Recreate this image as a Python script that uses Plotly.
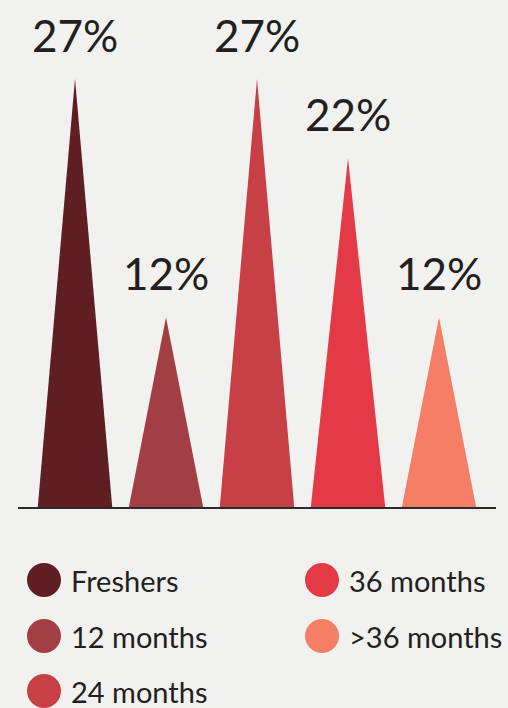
import plotly.graph_objects as go

categories = ["Freshers", "12 months", "24 months", "36 months", ">36 months"]
values = [27, 12, 27, 22, 12]
colors = ["#5f1e21", "#a23f44", "#c64045", "#e43a45", "#f47f66"]
labels = [f"{v}%" for v in values]

FONT = "Lato, 'Open Sans', sans-serif"
TXT = "#231f20"
half_w = 0.41

fig = go.Figure()
for i, (cat, v, c) in enumerate(zip(categories, values, colors)):
    fig.add_trace(go.Scatter(
        x=[i - half_w, i, i + half_w, i - half_w],
        y=[0, v, 0, 0],
        fill="toself", fillcolor=c, mode="lines",
        line=dict(color=c, width=0), showlegend=False, hoverinfo="skip",
        xaxis="x", yaxis="y"))
    fig.add_annotation(x=i, y=v, xref="x", yref="y", text=labels[i],
                       showarrow=False, yanchor="bottom", yshift=16,
                       font=dict(family=FONT, size=44, color=TXT))

# legend drawn as marker grid (two columns, filled column-wise)
leg_col = [0, 0, 0, 1, 1]
leg_row = [0, 1, 2, 0, 1]
col_x = [44, 322]
txt_x = [69, 347]
row_y = [580, 636, 691]
for i, cat in enumerate(categories):
    fig.add_trace(go.Scatter(
        x=[col_x[leg_col[i]]], y=[row_y[leg_row[i]]],
        mode="markers",
        marker=dict(size=34, color=colors[i], line=dict(width=0)),
        showlegend=False, hoverinfo="skip", xaxis="x2", yaxis="y2",
        cliponaxis=False))
    fig.add_annotation(x=txt_x[leg_col[i]], y=row_y[leg_row[i]], xref="x2", yref="y2",
                       text=cat, showarrow=False, xanchor="left", yanchor="middle",
                       font=dict(family=FONT, size=29, color=TXT))

fig.add_shape(type="line", xref="paper", yref="y", x0=18/508, x1=496/508,
              y0=0, y1=0, line=dict(color="#2b2b2b", width=2))

px_per_unit = 15.9
fig.update_layout(
    width=508, height=708,
    margin=dict(l=0, r=0, t=0, b=0),
    paper_bgcolor="#f1f1f0", plot_bgcolor="rgba(0,0,0,0)",
    xaxis=dict(range=[-75/91, (508-75)/91], visible=False, domain=[0, 1]),
    yaxis=dict(range=[-(708-508)/px_per_unit, 508/px_per_unit], visible=False, domain=[0, 1]),
    xaxis2=dict(range=[0, 508], visible=False, overlaying="x", anchor="y2"),
    yaxis2=dict(range=[708, 0], visible=False, overlaying="y", anchor="x2"),
)
fig.write_html("out.html", config={"displayModeBar": False, "staticPlot": True},
               post_script="document.body.style.margin='0';document.body.style.overflow='hidden';document.body.style.background='#f1f1f0';")
